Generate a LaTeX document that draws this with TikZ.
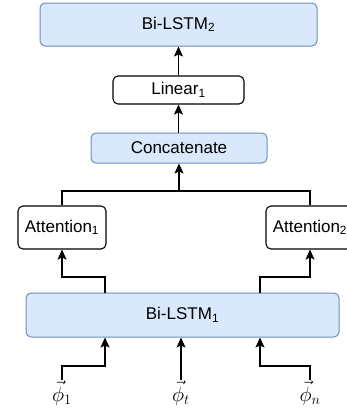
\documentclass[tikz,border=0pt]{standalone}
\usepackage{fontspec}
\setmainfont{Liberation Sans}
\usetikzlibrary{arrows.meta}
\definecolor{bfill}{HTML}{DAE8FC}
\definecolor{bdraw}{HTML}{6C8EBF}
\begin{document}
\begin{tikzpicture}[x=1pt,y=-1pt,
  every node/.style={font=\fontsize{17}{20}\selectfont},
  bluebox/.style={draw=bdraw,fill=bfill,rounded corners=5pt,line width=1pt,inner sep=0pt},
  whitebox/.style={draw=black,fill=white,rounded corners=5pt,line width=1.1pt,inner sep=0pt},
  conn/.style={line width=1.1pt,draw=black},
  arr/.style={conn,-{Stealth[length=10pt,width=9pt,inset=2pt]}},
  philabel/.style={inner sep=1pt,anchor=north,font=\fontsize{22}{24}\selectfont}]
\useasboundingbox (0,0) rectangle (347,418);
\clip (0,0) rectangle (347,418);
\node[bluebox,minimum width=277pt,minimum height=43pt] (bilstm2) at (178.5,24.5) {Bi-LSTM\textsubscript{2}};
\node[whitebox,minimum width=131pt,minimum height=28pt] (linear) at (178.5,90) {Linear\textsubscript{1}};
\node[bluebox,minimum width=176pt,minimum height=30pt] (concat) at (179,148) {Concatenate};
\node[whitebox,minimum width=88pt,minimum height=43pt] (att1) at (62,227.5) {Attention\textsubscript{1}};
\node[whitebox,minimum width=88pt,minimum height=43pt] (att2) at (310,227.5) {Attention\textsubscript{2}};
\node[bluebox,minimum width=313pt,minimum height=44pt] (bilstm1) at (182.5,315) {Bi-LSTM\textsubscript{1}};
\node[philabel] (phi1) at (62,380) {$\vec{\phi}_1$};
\node[philabel] (phit) at (181,380) {$\vec{\phi}_t$};
\node[philabel] (phin) at (310,380) {$\vec{\phi}_n$};
\coordinate (b) at (179,191);
\coordinate (k1) at (62,277);
\coordinate (k2) at (310,277);
\coordinate (j1) at (105,0);
\coordinate (j2) at (260,0);
\coordinate (m1) at (105,366);
\coordinate (m2) at (260,366);
\draw[arr] (linear.north) -- (bilstm2.south);
\draw[arr] (concat.north -| linear.north) -- (linear.south);
\draw[conn] (att1.north) |- (b) -| (att2.north);
\draw[arr] (b) -- (concat.south -| b);
\draw[arr] (bilstm1.north -| j1) |- (k1) -- (att1.south);
\draw[arr] (bilstm1.north -| j2) |- (k2) -- (att2.south);
\draw[arr] (phi1.north) |- (m1) -- (bilstm1.south -| m1);
\draw[arr] (phit.north) -- (bilstm1.south -| phit.north);
\draw[arr] (phin.north) |- (m2) -- (bilstm1.south -| m2);
\end{tikzpicture}
\end{document}
